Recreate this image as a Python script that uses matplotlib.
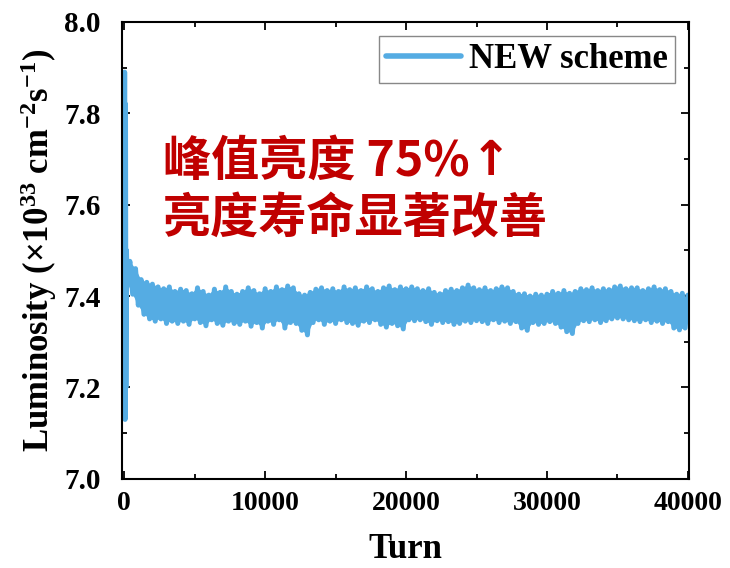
import matplotlib
matplotlib.use("Agg")
import matplotlib.pyplot as plt
from matplotlib.ticker import MultipleLocator

plt.rcParams['font.family'] = ['Liberation Serif', 'DejaVu Serif']
plt.rcParams['font.weight'] = 'bold'
plt.rcParams['mathtext.fontset'] = 'custom'
plt.rcParams['mathtext.rm'] = 'Liberation Serif:bold'
plt.rcParams['mathtext.default'] = 'rm'
plt.rcParams['path.simplify'] = False  # keep every turn sample

# === injection start: first turns swing hard ===
start_turns = [0, 30, 60, 90, 120, 160]
start_lum = [7.42, 7.89, 7.13, 7.82, 7.20, 7.50]

# === envelope of the turn-by-turn luminosity, sampled every 400 turns ===
hi_turns = [400 * k for k in range(1, 101)]
lo_turns = [400 * k - 200 for k in range(1, 101)]

lum_hi = [
    7.476, 7.460, 7.436, 7.430, 7.426, 7.420, 7.416, 7.420, 7.410, 7.415,
    7.412, 7.405, 7.418, 7.410, 7.402, 7.415, 7.408, 7.420, 7.410, 7.404,
    7.410, 7.418, 7.412, 7.405, 7.416, 7.410, 7.420, 7.414, 7.422, 7.418,
    7.405, 7.402, 7.408, 7.415, 7.418, 7.412, 7.416, 7.410, 7.420, 7.414,
    7.418, 7.412, 7.420, 7.416, 7.410, 7.418, 7.422, 7.414, 7.420, 7.416,
    7.420, 7.416, 7.412, 7.416, 7.408, 7.405, 7.412, 7.415, 7.412, 7.418,
    7.424, 7.418, 7.414, 7.418, 7.412, 7.416, 7.420, 7.418, 7.410, 7.404,
    7.405, 7.400, 7.404, 7.402, 7.404, 7.410, 7.406, 7.412, 7.406, 7.410,
    7.416, 7.414, 7.418, 7.412, 7.416, 7.414, 7.420, 7.422, 7.416, 7.418,
    7.418, 7.412, 7.416, 7.420, 7.414, 7.416, 7.410, 7.404, 7.406, 7.402,
]
lum_lo = [
    7.430, 7.404, 7.380, 7.360, 7.350, 7.345, 7.350, 7.340, 7.345, 7.340,
    7.345, 7.338, 7.350, 7.342, 7.335, 7.348, 7.340, 7.336, 7.345, 7.340,
    7.338, 7.345, 7.334, 7.342, 7.330, 7.345, 7.338, 7.348, 7.330, 7.342,
    7.340, 7.325, 7.315, 7.342, 7.348, 7.338, 7.345, 7.340, 7.348, 7.342,
    7.340, 7.336, 7.345, 7.342, 7.348, 7.338, 7.332, 7.340, 7.335, 7.328,
    7.348, 7.346, 7.348, 7.344, 7.338, 7.346, 7.342, 7.344, 7.338, 7.340,
    7.345, 7.342, 7.346, 7.344, 7.340, 7.348, 7.342, 7.345, 7.340, 7.344,
    7.330, 7.325, 7.342, 7.338, 7.340, 7.344, 7.340, 7.332, 7.322, 7.318,
    7.340, 7.346, 7.344, 7.348, 7.342, 7.346, 7.350, 7.352, 7.350, 7.348,
    7.346, 7.344, 7.348, 7.342, 7.345, 7.340, 7.344, 7.330, 7.326, 7.330,
]

# interleave low / high samples into one trace
turns = list(start_turns)
lum = list(start_lum)
for tl, vl, th, vh in zip(lo_turns, lum_lo, hi_turns, lum_hi):
    turns += [tl, th]
    lum += [vl, vh]

line_color = '#55ace3'

fig = plt.figure(figsize=(7.3, 5.68), dpi=100)
ax = fig.add_axes([0.1667, 0.157, 0.7772, 0.8045])

# the oscillation is far denser than the pixels, so the trace reads as a band
ax.fill(hi_turns + lo_turns[::-1], lum_hi + lum_lo[::-1],
        color=line_color, lw=0)
ax.plot(turns, lum, color=line_color, lw=3.6, solid_joinstyle='round',
        solid_capstyle='round', label='NEW scheme')

ax.set_xlim(-180, 40080)
ax.set_ylim(7.0, 8.0)
ax.xaxis.set_major_locator(MultipleLocator(10000))
ax.xaxis.set_minor_locator(MultipleLocator(5000))
ax.yaxis.set_major_locator(MultipleLocator(0.2))
ax.yaxis.set_minor_locator(MultipleLocator(0.1))
ax.yaxis.set_major_formatter(plt.FormatStrFormatter('%.1f'))

ax.tick_params(which='both', direction='in', top=True, right=True, width=1.3)
ax.tick_params(which='major', length=6)
ax.tick_params(which='minor', length=3.5)
ax.tick_params(axis='x', pad=9, labelsize=20)
ax.tick_params(axis='y', pad=15, labelsize=21)
for s in ax.spines.values():
    s.set_linewidth(1.5)

ax.set_xlabel('Turn', fontsize=25, fontweight='bold', labelpad=12)
ax.set_ylabel('Luminosity (×10$^{33}$ cm$^{-2}$s$^{-1}$)', fontsize=25,
              fontweight='bold', labelpad=4)

leg = ax.legend(loc='upper right', fontsize=25, fancybox=False,
                edgecolor='#888888', framealpha=1, handlelength=2.15,
                handletextpad=0.25, borderpad=0.2, borderaxespad=0.4)
leg.get_frame().set_linewidth(1.0)
leg.get_lines()[0].set_linewidth(4)

cjk = ['Noto Sans CJK SC', 'DejaVu Sans']
t1 = ax.text(0.073, 0.695, '峰值亮度 75%', transform=ax.transAxes,
             fontsize=34.7, color='#c00000', fontweight='bold', family=cjk,
             ha='left', va='center')
ax.annotate('↑', xy=(1, 0.5), xycoords=t1, xytext=(0.5, 0),
            textcoords='offset points', fontsize=34.7, color='#c00000',
            fontweight='bold', family='DejaVu Sans', ha='left', va='center')
ax.text(0.073, 0.568, '亮度寿命显著改善', transform=ax.transAxes, fontsize=34.7,
        color='#c00000', fontweight='bold', family=cjk, ha='left', va='center')

fig.savefig('out.png', dpi=100)
